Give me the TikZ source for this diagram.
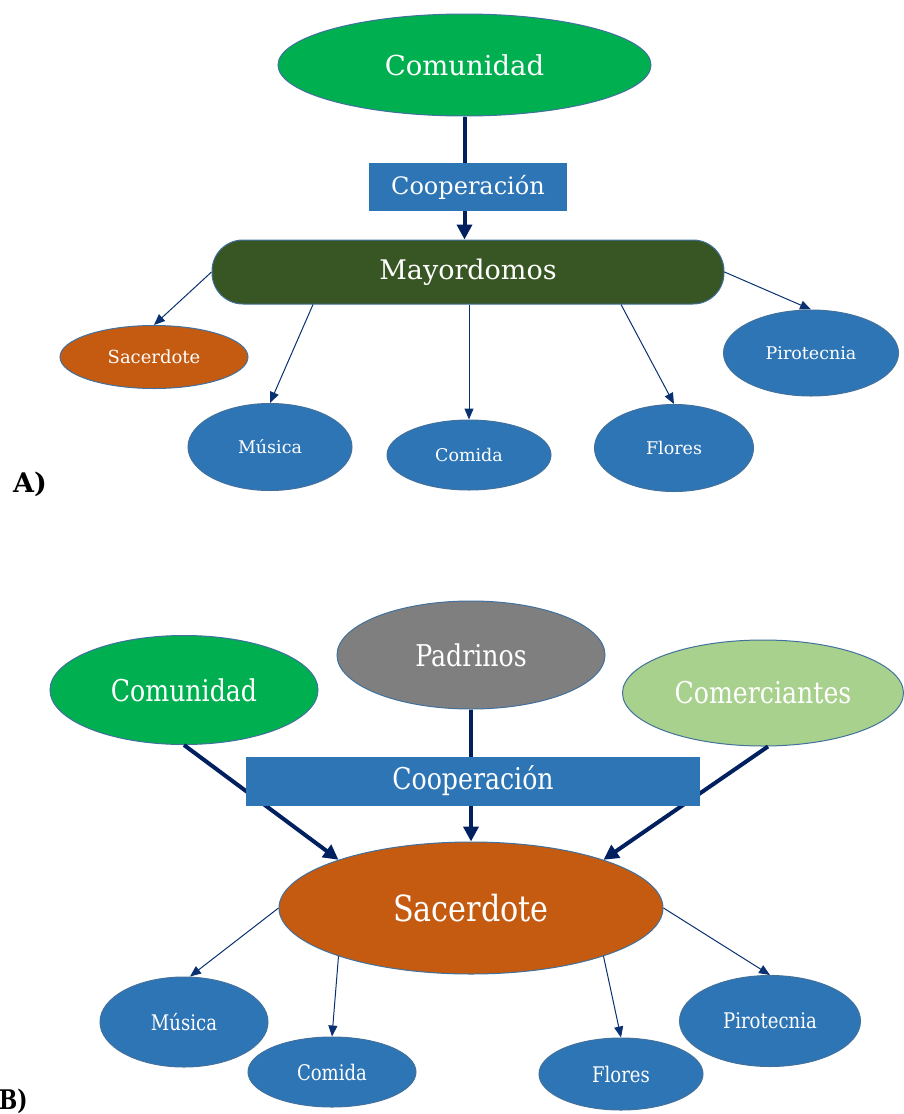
\documentclass[tikz,border=0pt]{standalone}
\usepackage{fontspec}
\setmainfont{DejaVu Serif}
\usetikzlibrary{shapes.geometric,arrows.meta}
\definecolor{cgreen}{HTML}{00B050}
\definecolor{cblue}{HTML}{2E75B6}
\definecolor{cdark}{HTML}{375623}
\definecolor{corange}{HTML}{C55A11}
\definecolor{cgray}{HTML}{7F7F7F}
\definecolor{clight}{HTML}{A9D18E}
\definecolor{cborder}{HTML}{41719C}
\definecolor{cnavy}{HTML}{002060}
\newcommand\fsz[1]{\fontsize{#1}{#1}\selectfont}
\newcommand\cond[1]{\scalebox{0.84}[1]{#1}}
\tikzset{
  ell/.style={ellipse, draw=cborder, line width=1pt, inner sep=0pt, text=white},
  coop/.style={rectangle, fill=cblue, inner sep=0pt, text=white},
  thick arr/.style={draw=cnavy, line width=4pt, -{Triangle[length=15pt,width=15pt]}},
  thin arr/.style={draw=cnavy!80!cblue, line width=1pt, -{Triangle[length=11pt,width=9pt]}},
  lab/.style={font=\bfseries\fsz{27}, inner sep=0pt, anchor=south west}
}
\begin{document}
\begin{tikzpicture}[x=1pt,y=-1pt]
\useasboundingbox (0,0) rectangle (904,1114);
% ---------------- Part A ----------------
\node[ell, fill=cgreen, minimum width=373pt, minimum height=102pt, font=\fsz{27.5}] (comA) at (464.5,65) {Comunidad};
\node[rectangle, rounded corners=31pt, draw=cborder, line width=1pt, fill=cdark, text=white,
      minimum width=512pt, minimum height=64pt, inner sep=0pt, font=\fsz{27}] (may) at (468,272) {Mayordomos};
\node[ell, fill=corange, minimum width=188pt, minimum height=63pt, font=\fsz{18}] (sacA) at (154,357) {Sacerdote};
\node[ell, fill=cblue, minimum width=164pt, minimum height=87pt, font=\fsz{17.5}] (musA) at (270,447) {Música};
\node[ell, fill=cblue, minimum width=164pt, minimum height=70pt, font=\fsz{17.5}] (comidaA) at (469,455) {Comida};
\node[ell, fill=cblue, minimum width=159pt, minimum height=87pt, font=\fsz{17.5}] (florA) at (674,448) {Flores};
\node[ell, fill=cblue, minimum width=175pt, minimum height=86pt, font=\fsz{17.5}] (pirA) at (811,353) {Pirotecnia};
\draw[thick arr] (comA.south) -- (comA.south |- may.north);
\node[coop, minimum width=198pt, minimum height=48pt, font=\fsz{24}] (coopA) at (468,187) {Cooperación};
\draw[thin arr] (may.west) -- (sacA.north);
\draw[thin arr] ([xshift=-155pt]may.south) -- (musA.north);
\draw[thin arr] ([xshift=1pt]may.south) -- (comidaA.north);
\draw[thin arr] ([xshift=153pt]may.south) -- (florA.north);
\draw[thin arr] (may.east) -- (pirA.north);
\node[lab] (labA) at (13,497) {A)};
% ---------------- Part B ----------------
\node[ell, fill=cgreen, minimum width=268pt, minimum height=109pt, font=\fsz{30}] (comB) at (184,690) {\cond{Comunidad}};
\node[ell, fill=cgray, minimum width=268pt, minimum height=108pt, font=\fsz{30}] (padB) at (471,655) {\cond{Padrinos}};
\node[ell, fill=clight, minimum width=281pt, minimum height=106pt, font=\fsz{30}] (merB) at (763,693) {\cond{Comerciantes}};
\node[ell, fill=corange, minimum width=384pt, minimum height=132pt, font=\fsz{36}] (sacB) at (471,908) {\cond{Sacerdote}};
\node[ell, fill=cblue, minimum width=168pt, minimum height=90pt, font=\fsz{21.5}] (musB) at (184,1022) {\cond{Música}};
\node[ell, fill=cblue, minimum width=168pt, minimum height=70pt, font=\fsz{21.5}] (comidaB) at (332,1072) {\cond{Comida}};
\node[ell, fill=cblue, minimum width=164pt, minimum height=72pt, font=\fsz{21.5}] (florB) at (621,1074) {\cond{Flores}};
\node[ell, fill=cblue, minimum width=181pt, minimum height=91pt, font=\fsz{21.5}] (pirB) at (770,1021) {\cond{Pirotecnia}};
\draw[thick arr] (comB.south) -- (sacB.160);
\draw[thick arr] (padB.south) -- (sacB.north);
\draw[thick arr] ([xshift=5pt]merB.south) -- (sacB.20);
\node[coop, minimum width=454pt, minimum height=49pt, font=\fsz{30}] (coopB) at (473,781) {\cond{Cooperación}};
\draw[thin arr] (sacB.west) -- ([xshift=6pt]musB.north);
\draw[thin arr] (sacB.200) -- (comidaB.north);
\draw[thin arr] (sacB.-20) -- (florB.north);
\draw[thin arr] (sacB.east) -- (pirB.north);
\node[lab] (labB) at (-1,1114) {\scalebox{0.8}[1]{B)}};
\end{tikzpicture}
\end{document}
